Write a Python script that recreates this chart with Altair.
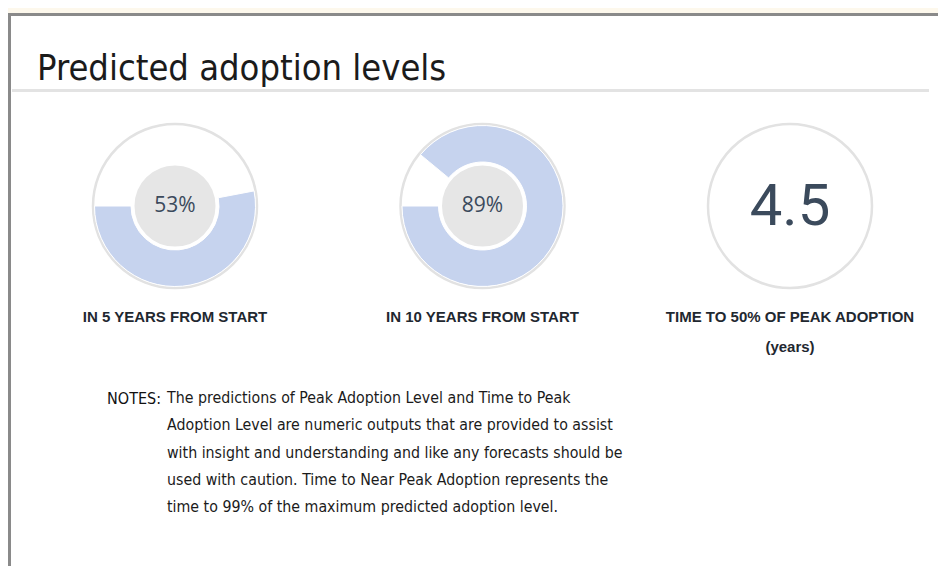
import altair as alt
import pandas as pd

# ---- data ----
categories = ["IN 5 YEARS FROM START", "IN 10 YEARS FROM START", "TIME TO 50% OF PEAK ADOPTION"]
kinds = ["pct", "pct", "years"]
values = [53, 89, 4.5]
value_labels = ["53%", "89%", "4.5"]
sub_labels = ["", "", "(years)"]

title_text = "Predicted adoption levels"
notes_head = "NOTES:"
notes_lines = [
    "The predictions of Peak Adoption Level and Time to Peak",
    "Adoption Level are numeric outputs that are provided to assist",
    "with insight and understanding and like any forecasts should be",
    "used with caution. Time to Near Peak Adoption represents the",
    "time to 99% of the maximum predicted adoption level.",
]

df = pd.DataFrame({
    "metric": categories,
    "kind": kinds,
    "value": values,
    "label": value_labels,
    "sub": sub_labels,
})
df["zero"] = 0

W, H = 930, 558
CY = 198
NARROW = "DejaVu Sans Condensed, Liberation Sans Narrow, Roboto, sans-serif"
TXT = "#3b4a5c"

x_enc = alt.X("metric:N",
              scale=alt.Scale(type="point", domain=categories, range=[167, 782], padding=0),
              axis=None)

one = pd.DataFrame({"k": [0]})

panel = alt.Chart(one).mark_rect(fill="white", stroke="#8a8a8a", strokeWidth=3).encode(
    x=alt.value(1.5), x2=alt.value(980), y=alt.value(6.5), y2=alt.value(620))

rule = alt.Chart(one).mark_rule(color="#e3e3e3", strokeWidth=3).encode(
    x=alt.value(4), x2=alt.value(921), y=alt.value(82.5))

title = alt.Chart(one).mark_text(text=title_text, align="left", baseline="alphabetic",
                                 fontSize=36, font=NARROW, color="#1b1b1b").encode(
    x=alt.value(29), y=alt.value(72))

base = alt.Chart(df)
pct = base.transform_filter("datum.kind == 'pct'")
yrs = base.transform_filter("datum.kind == 'years'")

# Vega circle symbols: radius = sqrt(size) / 2
outer = base.mark_point(shape="circle", size=(2 * 82) ** 2, filled=True, fill="white",
                        stroke="#e2e2e2", strokeWidth=2.5, opacity=1).encode(
    x=x_enc, y=alt.value(CY))

arcs = pct.mark_arc(radius=80.5, radius2=44, color="#c6d3ee", stroke="white", strokeWidth=1).encode(
    x=x_enc, y=alt.value(CY),
    theta=alt.Theta("value:Q", scale=alt.Scale(domain=[0, 100], range=[4.712389, -1.570796])),
    theta2="zero:Q")

inner = pct.mark_point(shape="circle", size=(2 * 42) ** 2, filled=True, fill="#e6e6e6",
                       stroke="white", strokeWidth=3, opacity=1).encode(
    x=x_enc, y=alt.value(CY))

pct_text = pct.mark_text(fontSize=21, color=TXT, font="Open Sans", baseline="middle").encode(
    x=x_enc, y=alt.value(CY), text="label:N")

yrs_text = yrs.mark_text(fontSize=58, color=TXT, font="Roboto", baseline="middle").encode(
    x=x_enc, y=alt.value(CY + 2), text="label:N")

labels = base.mark_text(fontSize=15, fontWeight="bold", font="Liberation Sans",
                        color="#1f2830", baseline="middle").encode(
    x=x_enc, y=alt.value(309), text="metric:N")

subs = yrs.mark_text(fontSize=15, fontWeight="bold", font="Liberation Sans",
                     color="#1f2830", baseline="middle").encode(
    x=x_enc, y=alt.value(339), text="sub:N")

notes_h = alt.Chart(one).mark_text(text=notes_head, align="right", baseline="top", fontSize=16,
                                   font=NARROW, color="#111111").encode(
    x=alt.value(153), y=alt.value(383))

notes = alt.Chart(one).mark_text(text=notes_lines, align="left", baseline="top", fontSize=15.8,
                                 lineHeight=27.3, font=NARROW, color="#1b1b1b").encode(
    x=alt.value(159), y=alt.value(383))

chart = alt.layer(panel, rule, title, outer, arcs, inner, pct_text, yrs_text, labels, subs,
                  notes_h, notes).properties(
    width=W, height=H, background="#fdf8ec",
    autosize=alt.AutoSizeParams(type="none"), padding=0
).configure_view(stroke=None)

chart.save("out.html", embed_options={"renderer": "svg", "actions": False})
